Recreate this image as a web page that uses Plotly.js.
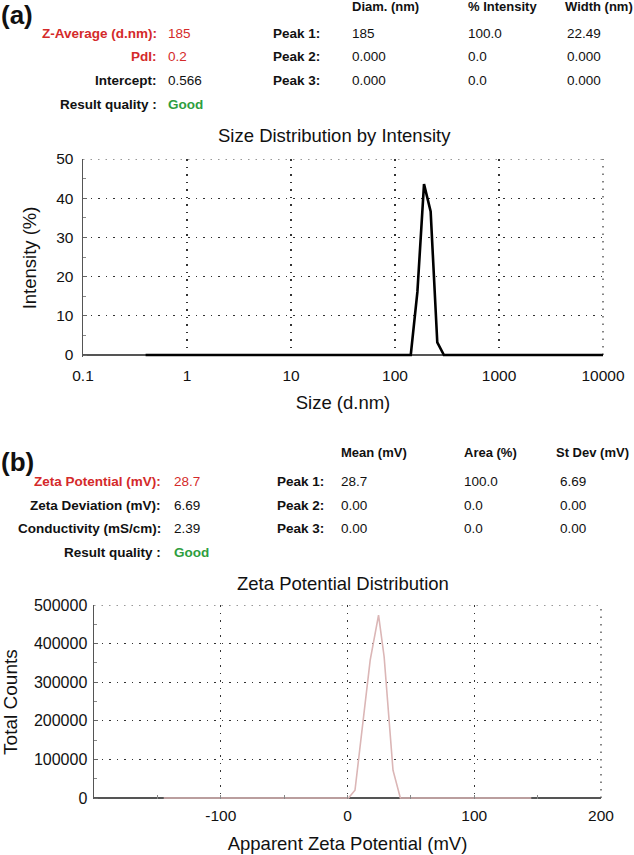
<!DOCTYPE html>
<html>
<head>
<meta charset="utf-8">
<script src="https://cdn.plot.ly/plotly-3.0.1.min.js"></script>
<style>
html,body{margin:0;padding:0;background:#fff;}
#chart{width:634px;height:855px;}
</style>
</head>
<body>
<div id="chart"></div>
<script>
// ---------- Data (a): Size distribution by intensity ----------
const sizeNm = [0.4, 141.8, 164.2, 190.1, 220.2, 255.0, 295.3, 10000];
const intensityPct = [0, 0, 16.1, 43.6, 36.6, 3.2, 0, 0];
const sizeTickVals = [0.1, 1, 10, 100, 1000, 10000];
const sizeTickText = ['0.1', '1', '10', '100', '1000', '10000'];
const intensityTickVals = [0, 10, 20, 30, 40, 50];

// ---------- Data (b): Zeta potential distribution ----------
const zetaMv = [-145, 0.8, 5.9, 17.9, 24.5, 28.9, 35.9, 41.7, 145];
const totalCounts = [0, 0, 20000, 357000, 474000, 366000, 72000, 0, 0];
const zetaTickVals = [-100, 0, 100, 200];
const zetaTickText = ['-100', '0', '100', '200'];
const countTickVals = [0, 100000, 200000, 300000, 400000, 500000];

// ---------- Summary tables ----------
const summaryLabelsA = ['Z-Average (d.nm):', 'PdI:', 'Intercept:', 'Result quality :'];
const summaryValuesA = ['185', '0.2', '0.566', 'Good'];
const peakHeadersA = ['Diam. (nm)', '% Intensity', 'Width (nm)'];
const peakLabelsA = ['Peak 1:', 'Peak 2:', 'Peak 3:'];
const peakRow1A = ['185', '100.0', '22.49'];
const peakRow2A = ['0.000', '0.0', '0.000'];
const peakRow3A = ['0.000', '0.0', '0.000'];

const summaryLabelsB = ['Zeta Potential (mV):', 'Zeta Deviation (mV):', 'Conductivity (mS/cm):', 'Result quality :'];
const summaryValuesB = ['28.7', '6.69', '2.39', 'Good'];
const peakHeadersB = ['Mean (mV)', 'Area (%)', 'St Dev (mV)'];
const peakLabelsB = ['Peak 1:', 'Peak 2:', 'Peak 3:'];
const peakRow1B = ['28.7', '100.0', '6.69'];
const peakRow2B = ['0.00', '0.0', '0.00'];
const peakRow3B = ['0.00', '0.0', '0.00'];

// ---------- Layout helpers ----------
const W = 634, H = 855;
const FONT = 'Liberation Sans, Arial, Helvetica, sans-serif';
const RED = '#d42a2a', GREEN = '#2e9e3e', BLACK = '#111';
const px = x => x / W;
const py = y => 1 - y / H;

const annotations = [];
function ann(text, x, y, o) {
  o = o || {};
  annotations.push({
    text: text, x: px(x), y: py(y), xref: 'paper', yref: 'paper',
    xanchor: o.xanchor || 'left', yanchor: 'middle', showarrow: false,
    font: {family: FONT, size: o.size || 13.5, color: o.color || BLACK,
           weight: o.bold ? 'bold' : 'normal'}
  });
}

// (a) header block
ann('(a)', -1, 15, {size: 26, bold: true});
const rowYA = [33, 57, 81, 105];
const colXA = [350, 466, 565];
summaryLabelsA.forEach((t, i) => {
  const c = (i < 2) ? RED : BLACK;
  ann(t, 159, rowYA[i], {xanchor: 'right', bold: true, color: c});
  ann(summaryValuesA[i], 166, rowYA[i], {color: i === 3 ? GREEN : c, bold: i === 3});
});
peakHeadersA.forEach((t, j) => ann(t, j === 2 ? 563 : colXA[j], 7, {bold: true, size: 13}));
[peakRow1A, peakRow2A, peakRow3A].forEach((row, i) => {
  ann(peakLabelsA[i], 322, rowYA[i], {xanchor: 'right', bold: true});
  row.forEach((t, j) => ann(t, colXA[j], rowYA[i]));
});

// (b) header block
ann('(b)', -1, 462, {size: 26, bold: true});
const rowYB = [481, 505, 528, 552];
const colXB = [339, 462, 558];
summaryLabelsB.forEach((t, i) => {
  const c = (i === 0) ? RED : BLACK;
  ann(t, 163, rowYB[i], {xanchor: 'right', bold: true, color: c});
  ann(summaryValuesB[i], 172, rowYB[i], {color: i === 3 ? GREEN : c, bold: i === 3});
});
peakHeadersB.forEach((t, j) => ann(t, j === 2 ? 554 : colXB[j], 452, {bold: true, size: 13}));
[peakRow1B, peakRow2B, peakRow3B].forEach((row, i) => {
  ann(peakLabelsB[i], 326, rowYB[i], {xanchor: 'right', bold: true});
  row.forEach((t, j) => ann(t, colXB[j], rowYB[i]));
});

// chart titles
ann('Size Distribution by Intensity', 334, 135, {xanchor: 'center', size: 18.5});
ann('Zeta Potential Distribution', 343, 583, {xanchor: 'center', size: 18.5});

const GRIDC = '#333', GRIDW = 1.2, GRIDD = '1.5px,6px';
const gridStyle = {showgrid: true, gridcolor: GRIDC, gridwidth: GRIDW, griddash: GRIDD};
const tickFont = {family: FONT, size: 15.5, color: BLACK};
const titleFont = {family: FONT, size: 18.5, color: BLACK};

// dotted frame edges (top / right), matching the grid style
function edge(xref, yref, x0, y0, x1, y1) {
  return {type: 'line', xref: xref, yref: yref, x0: x0, y0: y0, x1: x1, y1: y1,
          layer: 'below', line: {color: GRIDC, width: GRIDW, dash: GRIDD}};
}
const shapes = [
  edge('x domain', 'y', 0, 50, 1, 50),
  edge('x domain', 'y', 1, 0, 1, 50),
  edge('x2 domain', 'y2', 0, 500000, 1, 500000),
  edge('x2 domain', 'y2', 1, 0, 1, 500000)
];

const traces = [
  {x: sizeNm, y: intensityPct, xaxis: 'x', yaxis: 'y', type: 'scatter', mode: 'lines',
   line: {color: '#000', width: 2.6}, hoverinfo: 'x+y'},
  {x: zetaMv, y: totalCounts, xaxis: 'x2', yaxis: 'y2', type: 'scatter', mode: 'lines',
   line: {color: '#dbb6b6', width: 1.6}, hoverinfo: 'x+y'}
];

const layout = {
  width: W, height: H, margin: {l: 0, r: 0, t: 0, b: 0},
  paper_bgcolor: '#fff', plot_bgcolor: '#fff', showlegend: false,
  font: {family: FONT, color: BLACK},
  annotations: annotations,
  shapes: shapes,
  xaxis: Object.assign({
    type: 'log', domain: [px(83), px(603)], range: [-1, 4], anchor: 'y',
    tickmode: 'array', tickvals: sizeTickVals, ticktext: sizeTickText,
    ticks: '', showline: false, zeroline: false,
    tickfont: tickFont, ticklabelstandoff: 8,
    title: {text: 'Size (d.nm)', font: titleFont, standoff: 12}
  }, gridStyle),
  yaxis: Object.assign({
    domain: [1 - 356.96 / H, py(159)], range: [-0.5, 50], anchor: 'x',
    tickmode: 'array', tickvals: intensityTickVals,
    ticks: 'inside', ticklen: 4, tickcolor: '#666', tickwidth: 1,
    minor: {ticks: 'inside', ticklen: 3, tickcolor: '#888', dtick: 5, showgrid: false},
    showline: true, linecolor: '#555', linewidth: 1.5,
    zeroline: true, zerolinecolor: '#555', zerolinewidth: 1.5,
    tickfont: tickFont, ticklabelstandoff: 5,
    title: {text: 'Intensity (%)', font: titleFont, standoff: 14}
  }, gridStyle),
  xaxis2: Object.assign({
    domain: [px(94), px(601)], range: [-200, 200], anchor: 'y2',
    tickmode: 'array', tickvals: zetaTickVals, ticktext: zetaTickText,
    ticks: 'inside', ticklen: 4, tickcolor: '#888', tickwidth: 1,
    minor: {ticks: 'inside', ticklen: 4, tickcolor: '#888', dtick: 50, showgrid: false},
    showline: false, zeroline: false,
    tickfont: tickFont, ticklabelstandoff: 5,
    title: {text: 'Apparent Zeta Potential (mV)', font: titleFont, standoff: 14}
  }, gridStyle),
  yaxis2: Object.assign({
    domain: [1 - 799.16 / H, py(605)], range: [-3000, 500000], anchor: 'x2',
    tickmode: 'array', tickvals: countTickVals, tickformat: 'd',
    ticks: 'inside', ticklen: 4, tickcolor: '#666', tickwidth: 1,
    minor: {ticks: 'inside', ticklen: 3, tickcolor: '#888', dtick: 50000, showgrid: false},
    showline: true, linecolor: '#555', linewidth: 1.5,
    zeroline: true, zerolinecolor: '#555', zerolinewidth: 1.6,
    tickfont: {family: FONT, size: 16, color: BLACK}, ticklabelstandoff: 2,
    title: {text: 'Total Counts', font: {family: FONT, size: 19, color: BLACK}, standoff: 12}
  }, gridStyle)
};

Plotly.newPlot('chart', traces, layout, {staticPlot: true, displayModeBar: false});
</script>
</body>
</html>
